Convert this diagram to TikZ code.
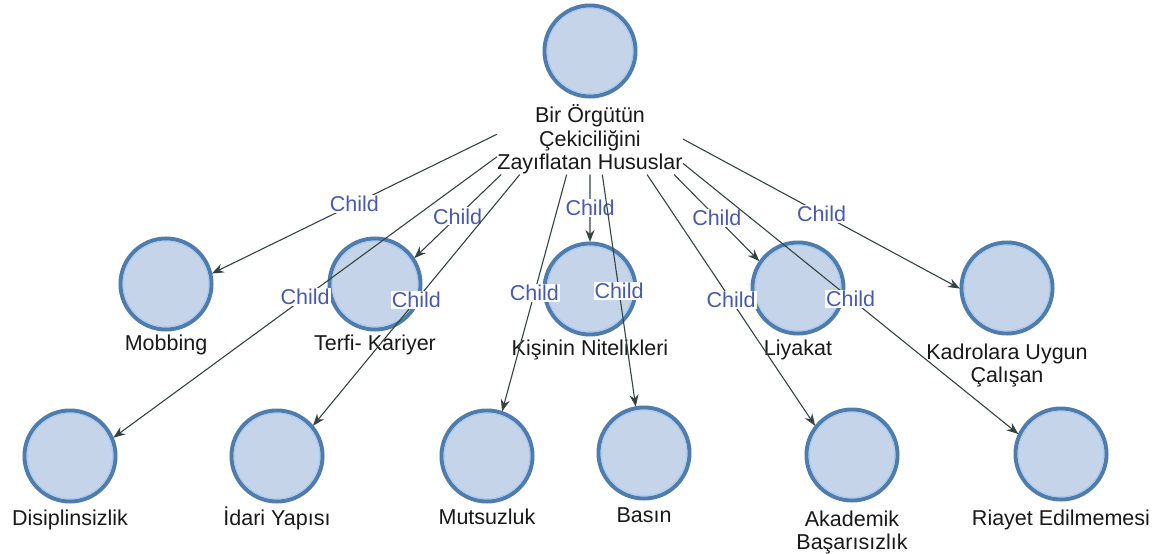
\documentclass[tikz,border=0pt]{standalone}
\usepackage{fontspec}
\setmainfont{Liberation Sans}
\usetikzlibrary{arrows.meta,calc,fit,intersections}
\definecolor{nodefill}{RGB}{197,212,232}
\definecolor{nodeline}{RGB}{79,124,172}
\definecolor{ringcol}{RGB}{168,204,240}
\definecolor{edgecol}{RGB}{52,68,66}
\definecolor{childcol}{RGB}{72,90,172}
\begin{document}
\begin{tikzpicture}[x=1pt,y=-1pt,
  circ/.style={circle,fill=nodefill,draw=nodeline,line width=4pt,minimum size=91pt,inner sep=0pt},
  ring/.style={draw=ringcol,line width=1.2pt},
  lbl/.style={font=\fontsize{21.5}{23.5}\selectfont,align=center,inner sep=0pt,anchor=base,text=black!90},
  edge/.style={draw=edgecol,line width=1.1pt,-{Stealth[length=12pt,width=9pt]}},
  childlbl/.style={font=\fontsize{21.5}{23.5}\selectfont,text=childcol,fill=white,inner sep=1pt}
]
\fill[white] (0,0) rectangle (1160,554);
\useasboundingbox (0,0) rectangle (1160,554);

% root (label anchor = baseline of its last line)
\node[circ] (root) at (590,51) {};
\draw[ring] (root) circle[radius=42.8pt];
\node[lbl] (rootlbl) at (590,169.7) {Bir Örgütün\\Çekiciliğini\\Zayıflatan Hususlar};
\node[fit=(root)(rootlbl),inner sep=0pt] (rootbox) {};

% children: name / position / centre of last label line / label
\foreach \n/\x/\y/\ly/\t in {
  mob/166/284/343/{Mobbing},
  ter/375/284/343/{Terfi- Kariyer},
  kis/590/289/348/{Kişinin Nitelikleri},
  liy/798/288/348/{Liyakat},
  kad/1007/288/375/{Kadrolara Uygun\\Çalışan},
  dis/70/456/518/{Disiplinsizlik},
  ida/277/456/518/{İdari Yapısı},
  mut/487/456/517/{Mutsuzluk},
  bas/644/453/515/{Basın},
  aka/852/455/542/{Akademik\\Başarısızlık},
  ria/1061/454/518/{Riayet Edilmemesi}}{
  \node[circ] (\n) at (\x,\y) {};
  \draw[ring] (\n) circle[radius=42.8pt];
  \node[lbl] (\n-l) at (\x,\ly+7.7) {\t};
  \coordinate (\n-bc) at ($(\n.north)!0.5!(\n-l.south)$);
}

% connectors
\foreach \n in {mob,dis,ter,ida,mut,kis,bas,liy,aka,ria,kad}{
  \path[name path global=lnpath] (rootbox.center) -- (\n-bc);
  \path[name path global=cppath] (\n) circle[radius=47pt];
  \path[name intersections={of=lnpath and cppath, by=tipx}];
  \coordinate (\n-tip) at (tipx);
  \draw[edge] (rootbox) -- (\n-tip) node[midway,childlbl] {Child};
}
\end{tikzpicture}
\end{document}
